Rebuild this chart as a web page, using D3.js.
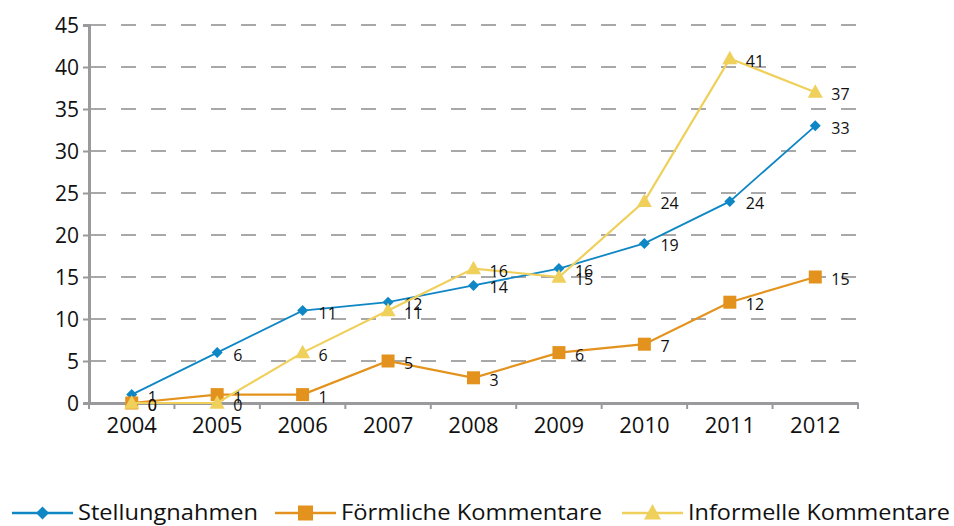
<!DOCTYPE html>
<html>
<head>
<meta charset="utf-8">
<script src="https://cdn.jsdelivr.net/npm/d3@7"></script>
<style>
  body { margin: 0; background: #fff; }
  text { font-family: "Open Sans", "Noto Sans", sans-serif; fill: #111; }
</style>
</head>
<body>
<div id="chart"></div>
<script>
var width = 954;
var height = 526;

// data
var years = ["2004", "2005", "2006", "2007", "2008", "2009", "2010", "2011", "2012"];
var stellungnahmen = [1, 6, 11, 12, 14, 16, 19, 24, 33];
var foermliche = [0, 1, 1, 5, 3, 6, 7, 12, 15];
var informelle = [0, 0, 6, 11, 16, 15, 24, 41, 37];
var yTicks = [0, 5, 10, 15, 20, 25, 30, 35, 40, 45];

var seriesNames = ["Stellungnahmen", "Förmliche Kommentare", "Informelle Kommentare"];
var seriesColors = ["#0f87c5", "#e3931d", "#efd05b"];
var seriesValues = [stellungnahmen, foermliche, informelle];

var plotLeft = 89, plotRight = 858, plotTop = 25, plotBottom = 403;

var svg = d3.select("#chart")
    .append("svg")
    .attr("width", width)
    .attr("height", height);

var x = d3.scaleBand()
    .domain(years)
    .range([plotLeft, plotRight]);

var y = d3.scaleLinear()
    .domain([0, 45])
    .range([plotBottom, plotTop]);

// marker shapes, r is half the width
function marker(s, r){
    if (s == 0) return "M0," + (-r) + "L" + r + ",0L0," + r + "L" + (-r) + ",0Z";
    if (s == 1) return "M" + (-r) + "," + (-r) + "H" + r + "V" + r + "H" + (-r) + "Z";
    return "M0," + (-r * 1.05) + "L" + r + "," + (r * 0.75) + "H" + (-r) + "Z";
}
var markerR = [5.5, 6.5, 7.5];

// dashed grid lines
svg.append("g")
    .selectAll("line")
    .data(yTicks.slice(1))
    .enter()
        .append("line")
        .attr("x1", plotLeft)
        .attr("x2", plotRight)
        .attr("y1", function(d){ return y(d); })
        .attr("y2", function(d){ return y(d); })
        .attr("stroke", "#8c8c8c")
        .attr("stroke-width", 1.5)
        .attr("stroke-dasharray", "15,15")
        .attr("stroke-dashoffset", -2);

// y axis
var yAxis = svg.append("g")
    .attr("transform", "translate(" + plotLeft + ",0)")
    .call(d3.axisLeft(y).tickValues(yTicks).tickSize(6).tickPadding(4));
yAxis.select(".domain").attr("stroke", "#9a9a9c").attr("stroke-width", 3);
yAxis.selectAll(".tick line").attr("stroke", "#9a9a9c").attr("stroke-width", 2);
yAxis.selectAll(".tick text")
    .attr("font-size", 21)
    .attr("font-family", "'Open Sans', sans-serif")
    .attr("dy", "0.34em")
    .attr("fill", "#111");

// x axis
var xAxis = svg.append("g")
    .attr("transform", "translate(0," + plotBottom + ")")
    .call(d3.axisBottom(x).tickSize(0).tickPadding(14));
xAxis.select(".domain").attr("stroke", "#9a9a9c").attr("stroke-width", 3);
xAxis.selectAll(".tick text")
    .attr("font-size", 22)
    .attr("font-family", "'Open Sans', sans-serif")
    .attr("fill", "#111");

// tick marks on the category boundaries
svg.append("g")
    .selectAll("line")
    .data(years.concat(["end"]))
    .enter()
        .append("line")
        .attr("x1", function(d,i){ return plotLeft + i * x.step(); })
        .attr("x2", function(d,i){ return plotLeft + i * x.step(); })
        .attr("y1", plotBottom)
        .attr("y2", plotBottom + 6)
        .attr("stroke", "#9a9a9c")
        .attr("stroke-width", 2);

var line = d3.line()
    .x(function(d,i){ return x(years[i]) + x.bandwidth() / 2; })
    .y(function(d){ return y(d); });

// lines, markers and value labels
seriesValues.forEach(function(vals, s){
    var g = svg.append("g");
    g.append("path")
        .datum(vals)
        .attr("d", line)
        .attr("fill", "none")
        .attr("stroke", seriesColors[s])
        .attr("stroke-width", s == 0 ? 1.8 : 2.2);

    g.selectAll(".mark")
        .data(vals)
        .enter()
            .append("path")
            .attr("class", "mark")
            .attr("transform", function(d,i){
                return "translate(" + (x(years[i]) + x.bandwidth() / 2) + "," + y(d) + ")";
            })
            .attr("d", marker(s, markerR[s]))
            .attr("fill", seriesColors[s]);

    g.selectAll("text")
        .data(vals)
        .enter()
            .append("text")
            .attr("x", function(d,i){ return x(years[i]) + x.bandwidth() / 2 + 16; })
            .attr("y", function(d){ return y(d) + 8; })
            .style("font-size", "16px")
            .text(function(d){ return d; });
});

// legend
var legendX = [12, 275, 622];
var legendTextW = [180, 261, 262];
var legend = svg.append("g").attr("transform", "translate(0,513)");
seriesNames.forEach(function(name, s){
    var lg = legend.append("g").attr("transform", "translate(" + legendX[s] + ",0)");
    lg.append("line")
        .attr("x1", 0).attr("x2", 61)
        .attr("y1", 0).attr("y2", 0)
        .attr("stroke", seriesColors[s])
        .attr("stroke-width", 2.5);
    lg.append("path")
        .attr("transform", "translate(30.5,0)")
        .attr("d", marker(s, markerR[s] + 1))
        .attr("fill", seriesColors[s]);
    lg.append("text")
        .attr("x", 66)
        .attr("y", 7)
        .attr("textLength", legendTextW[s])
        .attr("lengthAdjust", "spacingAndGlyphs")
        .style("font-size", "22px")
        .text(name);
});
</script>
</body>
</html>
